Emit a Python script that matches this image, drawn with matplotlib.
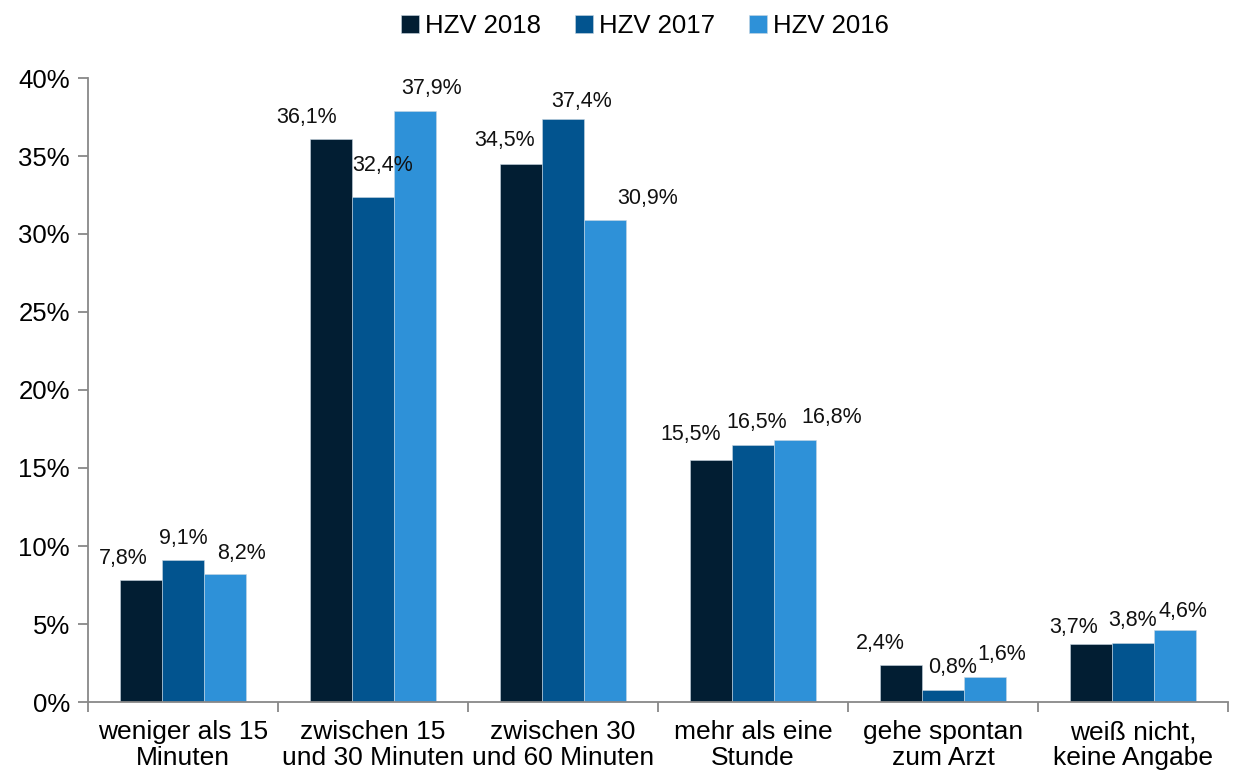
import matplotlib.pyplot as plt
import numpy as np

plt.rcParams['font.family'] = ['Liberation Sans', 'DejaVu Sans']

categories = [
    'weniger als 15\nMinuten',
    'zwischen 15\nund 30 Minuten',
    'zwischen 30\nund 60 Minuten',
    'mehr als eine\nStunde',
    'gehe spontan\nzum Arzt',
    'weiß nicht,\nkeine Angabe',
]
series_names = ['HZV 2018', 'HZV 2017', 'HZV 2016']
hzv_2018 = [7.8, 36.1, 34.5, 15.5, 2.4, 3.7]
hzv_2017 = [9.1, 32.4, 37.4, 16.5, 0.8, 3.8]
hzv_2016 = [8.2, 37.9, 30.9, 16.8, 1.6, 4.6]
yticks = [0, 5, 10, 15, 20, 25, 30, 35, 40]

colors = ['#021e33', '#02548f', '#2e91d8']

# label nudges (pixels) relative to bar top centre, as placed in the original
label_dx = [
    [-18, -24, -16, -20, -21, -17],
    [0, 10, 19, 4, 10, 0],
    [17, 17, 43, 37, 17, 8],
]
label_dy = [
    [22, 21, 23, 26, 21, 17],
    [22, 31, 17, 22, 22, 22],
    [21, 22, 21, 22, 23, 19],
]

fig = plt.figure(figsize=(12.36, 7.74), dpi=100)
ax = fig.add_axes([88 / 1236, 1 - 702 / 774, (1228 - 88) / 1236, 624 / 774])

x = np.arange(len(categories))
w = 0.221
all_series = [hzv_2018, hzv_2017, hzv_2016]
handles = []
for k, vals in enumerate(all_series):
    pos = x + (k - 1) * w
    bars = ax.bar(pos, vals, width=w, color=colors[k], edgecolor='#c8d6e2',
                  linewidth=0.4, label=series_names[k], zorder=2)
    handles.append(bars)
    for i, (px, v) in enumerate(zip(pos, vals)):
        ax.annotate(f'{v:.1f}'.replace('.', ',') + '%', (px, v),
                    xytext=(label_dx[k][i], label_dy[k][i]),
                    textcoords='offset pixels', ha='center', va='center',
                    fontsize=15.5, color='#111111')

ax.set_xlim(-0.5, len(categories) - 0.5)
ax.set_ylim(0, 40)
ax.set_yticks(yticks)
ax.set_yticklabels([f'{t}%' for t in yticks])

ax.set_xticks(x)
ax.set_xticklabels(categories, linespacing=1.12)
ax.set_xticks(np.arange(len(categories) + 1) - 0.5, minor=True)
ax.tick_params(axis='x', which='major', length=0, pad=13, labelsize=19)
ax.tick_params(axis='x', which='minor', length=7, width=1.3, color='#888888')
ax.tick_params(axis='y', length=7, width=1.3, color='#888888', labelsize=18.5, pad=6)

for s in ['top', 'right']:
    ax.spines[s].set_visible(False)
for s in ['left', 'bottom']:
    ax.spines[s].set_color('#888888')
    ax.spines[s].set_linewidth(1.3)

fig.legend(handles=handles, labels=series_names, loc='center',
           bbox_to_anchor=(645 / 1236, 1 - 26 / 774), ncol=3, frameon=False,
           fontsize=18.5, handlelength=0.7, handleheight=0.7, handletextpad=0.25,
           columnspacing=1.3)

fig.savefig('out.png', dpi=100)
